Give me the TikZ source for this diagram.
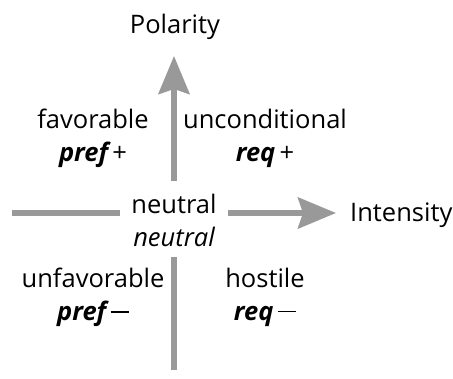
\documentclass[tikz,border=0pt]{standalone}
\usepackage{fontspec}
\setmainfont{Open Sans}
\usetikzlibrary{arrows.meta}
\newcommand{\emb}[1]{{\bfseries\itshape #1}}
\newcommand{\mns}{\rule[0.3em]{0.72em}{1.7pt}}
\begin{document}
\begin{tikzpicture}[x=1pt,y=-1pt,
  axis/.style={draw=black!40, line width=5.5pt},
  axarrow/.style={axis, -{Stealth[length=38pt,width=31pt,inset=5pt]}},
  lbl/.style={font=\fontsize{25.5}{33}\selectfont, inner sep=0pt, align=center}]
\useasboundingbox (0,0) rectangle (453,378);
\node[lbl] (pol) at (175,27) {Polarity};
\node[lbl] (int) at (350,215) [anchor=west] {Intensity};
\node[lbl] (neu) at (174,220) {neutral\\\itshape neutral};
\node[lbl] (fav) at (93,138) {favorable\\\emb{pref}\,+};
\node[lbl] (unc) at (265,138) {unconditional\\\emb{req}\,+};
\node[lbl] (unf) at (93,297) {unfavorable\\\emb{pref}\,\mns};
\node[lbl] (hos) at (265,297) {hostile\\\emb{req}\,\mns};
\coordinate (vtop) at (174,56);
\coordinate (vmid) at (174,181);
\coordinate (vlow) at (174,257);
\coordinate (vbot) at (174,370);
\coordinate (hl) at (12,213);
\coordinate (hm) at (120,213);
\coordinate (hr0) at (228,213);
\coordinate (hr) at (336,213);
\draw[axarrow] (vmid) -- (vtop);
\draw[axis] (vlow) -- (vbot);
\draw[axis] (hl) -- (hm);
\draw[axarrow] (hr0) -- (hr);
\end{tikzpicture}
\end{document}
